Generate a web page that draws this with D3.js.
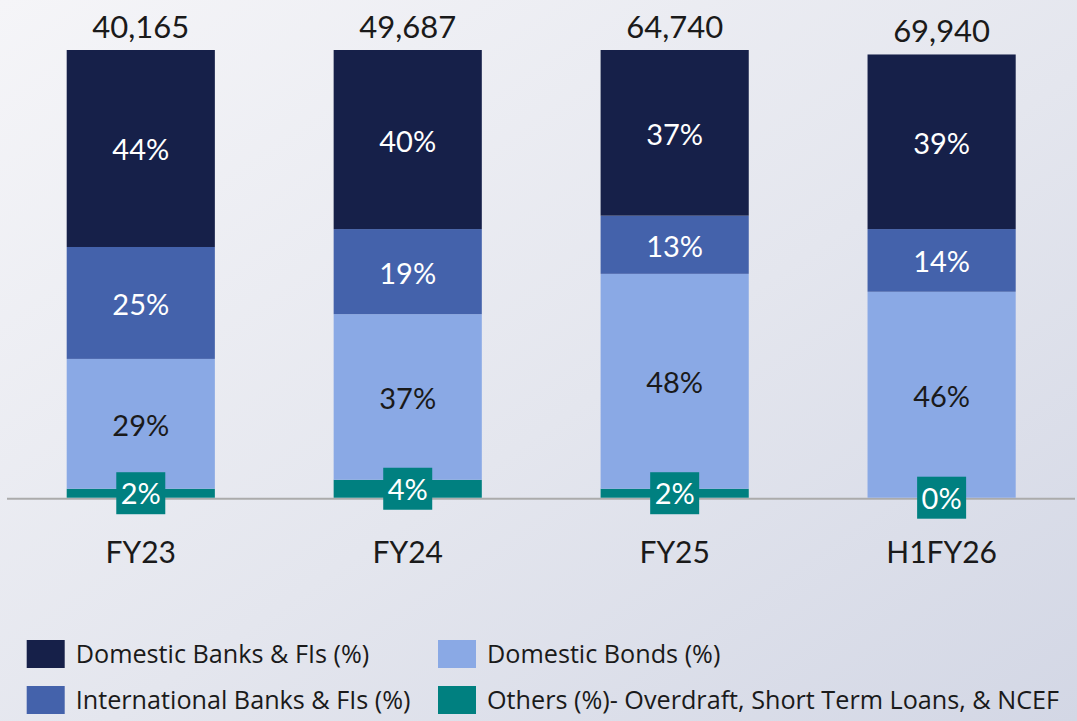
<!DOCTYPE html>
<html>
<head>
<meta charset="utf-8">
<script src="https://cdn.jsdelivr.net/npm/d3@7/dist/d3.min.js"></script>
<style>
  html, body { margin: 0; padding: 0; }
  body { width: 1077px; height: 721px; overflow: hidden; }
  svg { display: block; font-family: Lato, "Open Sans", sans-serif; }
</style>
</head>
<body>
<svg id="chart" width="1077" height="721"></svg>
<script>
// Borrowing mix by source, share of total (%)
const categories = ["FY23", "FY24", "FY25", "H1FY26"];
const totals = [40165, 49687, 64740, 69940];
const domesticBanks = [44, 40, 37, 39];
const internationalBanks = [25, 19, 13, 14];
const domesticBonds = [29, 37, 48, 46];
const others = [2, 4, 2, 0];

const seriesNames = [
  "Domestic Banks & FIs (%)",
  "International Banks & FIs (%)",
  "Domestic Bonds (%)",
  "Others (%)- Overdraft, Short Term Loans, & NCEF"
];
const seriesKeys = ["others", "domesticBonds", "internationalBanks", "domesticBanks"];
const colors = {
  domesticBanks: "#162049",
  internationalBanks: "#4462ab",
  domesticBonds: "#8aa9e5",
  others: "#008080"
};

const rows = categories.map((c, i) => ({
  category: c,
  total: totals[i],
  domesticBanks: domesticBanks[i],
  internationalBanks: internationalBanks[i],
  domesticBonds: domesticBonds[i],
  others: others[i]
}));

const svg = d3.select("#chart");
const W = 1077, H = 721;

// soft background wash
const defs = svg.append("defs");
const bg = defs.append("linearGradient").attr("id", "bg")
  .attr("x1", "0%").attr("y1", "0%").attr("x2", "100%").attr("y2", "100%");
bg.append("stop").attr("offset", "0%").attr("stop-color", "#f5f5f8");
bg.append("stop").attr("offset", "55%").attr("stop-color", "#e4e6ee");
bg.append("stop").attr("offset", "100%").attr("stop-color", "#d3d7e5");
svg.append("rect").attr("width", W).attr("height", H).attr("fill", "url(#bg)");

const x = d3.scaleBand()
  .domain(categories)
  .range([66.7, 1015.7])
  .paddingInner(0.445)
  .paddingOuter(0);

const y = d3.scaleLinear().domain([0, 100]).range([497.7, 50]);

const stacked = d3.stack().keys(seriesKeys)(rows);

// baseline
svg.append("line")
  .attr("x1", 7).attr("x2", 1075)
  .attr("y1", y(0) + 1).attr("y2", y(0) + 1)
  .attr("stroke", "#ababab").attr("stroke-width", 2);

// stacked bars
const layers = svg.append("g").selectAll("g")
  .data(stacked).join("g")
  .attr("fill", d => colors[d.key]);

layers.selectAll("rect")
  .data(d => d)
  .join("rect")
  .attr("x", d => x(d.data.category))
  .attr("width", x.bandwidth())
  .attr("y", d => y(d[1]))
  .attr("height", d => y(d[0]) - y(d[1]));

// segment labels (others handled separately with a badge)
const labelColor = { domesticBanks: "#ffffff", internationalBanks: "#ffffff", domesticBonds: "#1a1a1a" };
stacked.filter(s => s.key !== "others").forEach(s => {
  svg.append("g").selectAll("text")
    .data(s).join("text")
    .attr("x", d => x(d.data.category) + x.bandwidth() / 2)
    .attr("y", d => (y(d[0]) + y(d[1])) / 2 + 12)
    .attr("text-anchor", "middle")
    .attr("font-size", 29)
    .attr("fill", labelColor[s.key])
    .text(d => d.data[s.key] + "%");
});

// badges for the thin "others" segment
const othersLayer = stacked.find(s => s.key === "others");
const badge = svg.append("g").selectAll("g")
  .data(othersLayer).join("g")
  .attr("transform", d => `translate(${x(d.data.category) + x.bandwidth() / 2},${(y(d[0]) + y(d[1])) / 2})`);
badge.append("rect")
  .attr("x", -24.5).attr("y", -21).attr("width", 49).attr("height", 42)
  .attr("fill", colors.others);
badge.append("text")
  .attr("text-anchor", "middle")
  .attr("y", 11)
  .attr("font-size", 29)
  .attr("fill", "#ffffff")
  .text(d => d.data.others + "%");

// totals above bars
const fmt = d3.format(",");
svg.append("g").selectAll("text")
  .data(stacked[stacked.length - 1]).join("text")
  .attr("x", d => x(d.data.category) + x.bandwidth() / 2)
  .attr("y", d => y(d[1]) - 12)
  .attr("text-anchor", "middle")
  .attr("font-size", 31)
  .attr("fill", "#1a1a1a")
  .text(d => fmt(d.data.total));

// category axis
const xAxis = svg.append("g")
  .attr("transform", `translate(0,${y(0)})`)
  .call(d3.axisBottom(x).tickSize(0).tickPadding(44));
xAxis.select(".domain").remove();
xAxis.selectAll("text")
  .attr("font-size", 30)
  .attr("font-family", "Lato, 'Open Sans', sans-serif")
  .attr("fill", "#1a1a1a");

// legend
const legendItems = [
  { key: "domesticBanks", name: seriesNames[0], col: 0, row: 0 },
  { key: "internationalBanks", name: seriesNames[1], col: 0, row: 1 },
  { key: "domesticBonds", name: seriesNames[2], col: 1, row: 0 },
  { key: "others", name: seriesNames[3], col: 1, row: 1 }
];
const colX = [26.7, 438];
const rowY = [640, 686];
const legend = svg.append("g").selectAll("g")
  .data(legendItems).join("g")
  .attr("transform", d => `translate(${colX[d.col]},${rowY[d.row]})`);
legend.append("rect")
  .attr("width", 38).attr("height", 28)
  .attr("fill", d => colors[d.key]);
legend.append("text")
  .attr("x", 49).attr("y", 23)
  .attr("font-size", 25.2)
  .attr("font-family", "'Open Sans', Lato, sans-serif")
  .attr("fill", "#1a1a1a")
  .text(d => d.name);
</script>
</body>
</html>
